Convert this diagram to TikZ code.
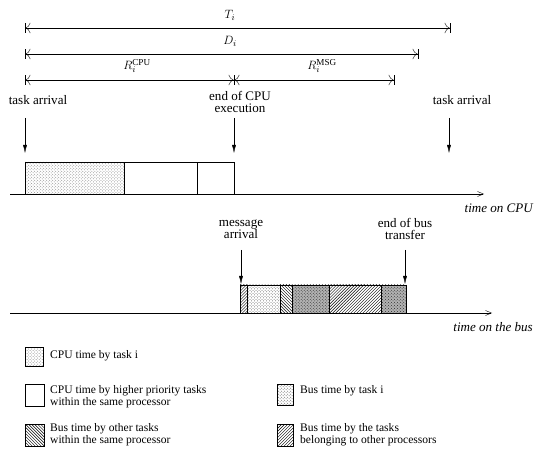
\documentclass[tikz,border=0pt]{standalone}
\usepackage{fontspec}
\setmainfont{Liberation Serif}
\usetikzlibrary{patterns,arrows.meta}

\begin{document}
\begin{tikzpicture}[x=0.035cm,y=-0.035cm,
    font=\fontsize{11.5}{12}\selectfont,
    dim/.style={thin,{Bar[width=9pt]To[length=5pt]}-{To[length=5pt]Bar[width=9pt]}},
    down/.style={thin,-{Latex[length=8pt,width=4pt]}},
    timeline/.style={thin,-{Straight Barb[length=6pt,width=5pt]}},
    cputask/.style={draw,pattern=crosshatch dots,pattern color=black!45},
    higher/.style={draw,fill=white},
    busown/.style={draw,pattern=north west lines},
    busother/.style={draw,pattern=north east lines},
    bustask/.style={draw,pattern=crosshatch dots,pattern color=black!60},
    busdark/.style={draw,preaction={fill=black!30},pattern=crosshatch dots,pattern color=black!80},
    lbl/.style={align=center,inner sep=1pt,font=\fontsize{13}{12}\selectfont},
    legtext/.style={anchor=west,align=left,inner sep=0pt}]
  \useasboundingbox (0,0) rectangle (539,456);

  % period, deadline and response times
  \coordinate (s1) at (25,28);  \coordinate (e1) at (450,28);
  \coordinate (s2) at (25,54);  \coordinate (e2) at (418,54);
  \coordinate (s3) at (25,80);  \coordinate (m3) at (234,80);
  \coordinate (e3) at (394,80);
  \draw[dim] (s1) -- (e1);
  \draw[dim] (s2) -- (e2);
  \draw[dim] (s3) -- (m3);
  \draw[dim] (m3) -- (e3);
  \node[lbl] (T) at (230,15) {$T_i$};
  \node[lbl] (D) at (230,41) {$D_i$};
  \node[lbl] (Rcpu) at (137,66) {$R_i^{\mathrm{CPU}}$};
  \node[lbl] (Rmsg) at (322,66) {$R_i^{\mathrm{MSG}}$};

  % events on the CPU
  \node[lbl] (arr1) at (38,100) {task arrival};
  \node[lbl] (endcpu) at (240,102) {end of CPU\\execution};
  \node[lbl] (arr2) at (462,100) {task arrival};
  \coordinate (a1) at (25,118);  \coordinate (b1) at (25,153);
  \coordinate (a2) at (234,118); \coordinate (b2) at (234,153);
  \coordinate (a3) at (449,118); \coordinate (b3) at (449,153);
  \draw[down] (a1) -- (b1);
  \draw[down] (a2) -- (b2);
  \draw[down] (a3) -- (b3);

  \draw[cputask] (25,162) rectangle (124,194);
  \draw[higher] (124,162) rectangle (197,194);
  \draw[higher] (197,162) rectangle (234,194);
  \coordinate (c0) at (10,194); \coordinate (c1) at (484,194);
  \draw[timeline] (c0) -- (c1);
  \node[anchor=east,inner sep=0pt,font=\fontsize{13}{12}\selectfont\itshape] (tcpu) at (533,208) {time on CPU};

  % events on the bus
  \node[lbl] (msg) at (241,229) {message\\arrival};
  \node[lbl] (endbus) at (405,229) {end of bus\\transfer};
  \coordinate (a4) at (241,250); \coordinate (b4) at (241,284);
  \coordinate (a5) at (405,250); \coordinate (b5) at (405,284);
  \draw[down] (a4) -- (b4);
  \draw[down] (a5) -- (b5);

  \foreach \a/\b/\s in {240/247/busother,247/280/bustask,280/292/busown,
                        292/329/busdark,329/381/busother,381/406/busdark}
    \draw[\s] (\a,285) rectangle (\b,313);
  \coordinate (d0) at (10,313); \coordinate (d1) at (492,313);
  \draw[timeline] (d0) -- (d1);
  \node[anchor=east,inner sep=0pt,font=\fontsize{13}{12}\selectfont\itshape] (tbus) at (533,327) {time on the bus};

  % legend
  \draw[cputask] (25,347) rectangle (43,366);
  \node[legtext] (l1) at (50,356) {CPU time by task i};
  \draw[higher] (25,384) rectangle (44,406);
  \node[legtext] (l2) at (50,397) {CPU time by higher priority tasks\\within the same processor};
  \draw[busown] (25,424) rectangle (44,446);
  \node[legtext] (l3) at (50,435) {Bus time by other tasks\\within the same processor};
  \draw[bustask] (277,384) rectangle (293,405);
  \node[legtext] (l4) at (300,391) {Bus time by task i};
  \draw[busother] (277,424) rectangle (293,446);
  \node[legtext] (l5) at (300,435) {Bus time by the tasks\\belonging to other processors};
\end{tikzpicture}
\end{document}
